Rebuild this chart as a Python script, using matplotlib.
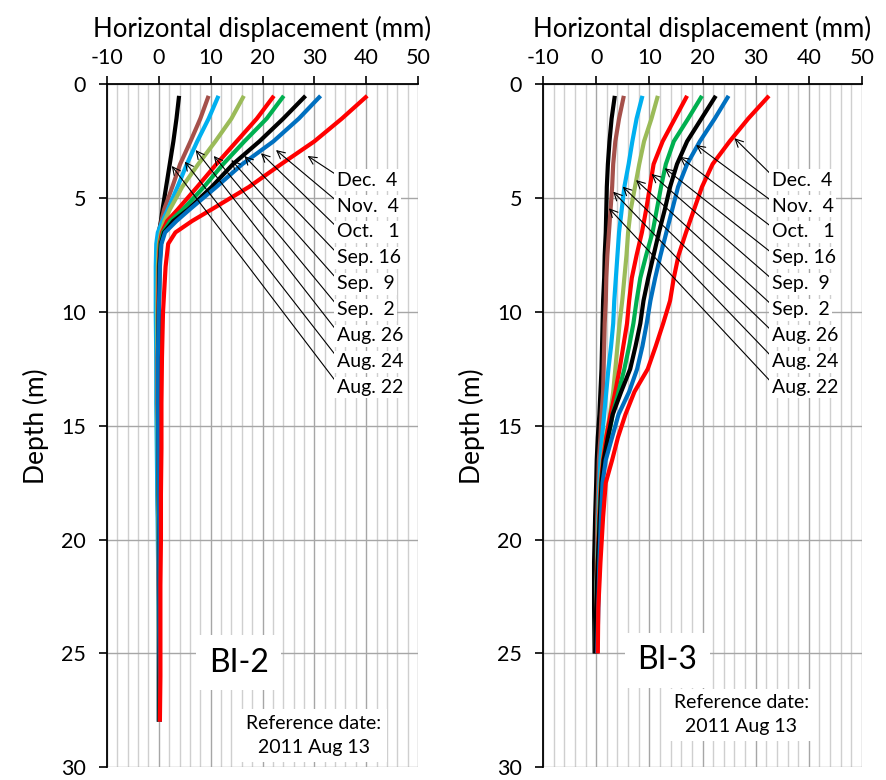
import matplotlib
matplotlib.use('Agg')
import matplotlib.pyplot as plt
from matplotlib.ticker import MultipleLocator

plt.rcParams['font.family'] = ['Lato', 'DejaVu Sans']
plt.rcParams['axes.unicode_minus'] = False

# survey dates (legend labels, top to bottom in the label column)
dates = ['Dec.  4', 'Nov.  4', 'Oct.   1', 'Sep. 16', 'Sep.  9', 'Sep.  2',
         'Aug. 26', 'Aug. 24', 'Aug. 22']
colors = ['#ff0000', '#0070c0', '#000000', '#00b050', '#ff0000', '#9bbb59',
          '#00b0f0', '#a5504a', '#000000']

# ---- BI-2 ----
depth_bi2 = [0.5, 1.5, 2.5, 3.5, 4.5, 5.5, 6.0, 6.5, 7.0, 8.0,
             10, 12, 14, 16, 18, 20, 22, 24, 26, 28]
bi2 = {
    'Dec.  4': [40.2, 35.3, 30.0, 23.6, 17.4, 10.1, 6.4, 3.2, 1.8, 1.3,
                0.8, 0.6, 0.5, 0.5, 0.4, 0.4, 0.3, 0.3, 0.3, 0.2],
    'Nov.  4': [31.2, 27.0, 22.1, 16.1, 11.1, 5.9, 3.4, 1.2, 0.5, 0.2,
                0.0, -0.2, -0.2, -0.1, 0.0, 0.1, 0.1, 0.1, 0.2, 0.2],
    'Oct.   1': [28.3, 24.0, 19.4, 14.3, 10.2, 5.6, 2.8, 1.0, 0.4, 0.1,
                 0.0, -0.1, -0.1, 0.0, 0.0, 0.1, 0.1, 0.1, 0.1, 0.1],
    'Sep. 16': [24.1, 20.8, 16.5, 12.4, 8.7, 4.6, 2.2, 0.8, 0.3, 0.1,
                0.0, -0.1, -0.1, 0.0, 0.0, 0.0, 0.1, 0.1, 0.1, 0.1],
    'Sep.  9': [22.2, 18.9, 15.0, 11.1, 7.4, 3.6, 1.6, 0.6, 0.2, 0.0,
                -0.1, -0.2, -0.2, -0.1, 0.0, 0.0, 0.0, 0.1, 0.1, 0.1],
    'Sep.  2': [16.4, 14.0, 10.9, 7.6, 4.5, 2.1, 1.1, 0.4, 0.0, -0.2,
                -0.3, -0.3, -0.3, -0.2, -0.1, 0.0, 0.0, 0.0, 0.1, 0.1],
    'Aug. 26': [11.5, 9.6, 7.4, 5.4, 3.6, 1.7, 0.7, -0.2, -0.5, -0.6,
                -0.6, -0.5, -0.5, -0.4, -0.3, -0.2, -0.1, 0.0, 0.0, 0.0],
    'Aug. 24': [9.6, 8.0, 6.1, 4.1, 2.6, 1.0, 0.5, 0.0, -0.3, -0.4,
                -0.4, -0.4, -0.3, -0.3, -0.2, -0.1, 0.0, 0.0, 0.0, 0.0],
    'Aug. 22': [3.9, 3.4, 2.8, 2.1, 1.4, 0.7, 0.4, 0.0, -0.3, -0.4,
                -0.4, -0.3, -0.3, -0.2, -0.2, -0.1, 0.0, 0.0, 0.0, 0.0],
}
# arrow tips (displacement, depth) for each label
tips_bi2 = [(28.7, 3.14), (22.6, 2.88), (19.7, 3.02), (16.5, 3.14), (14.0, 3.32),
            (10.6, 3.14), (7.1, 2.88), (5.0, 3.39), (2.5, 3.58)]

# ---- BI-3 ----
depth_bi3 = [0.5, 1.5, 2.5, 3.5, 4.5, 5.5, 6.5, 7.5, 8.5, 9.5, 10.5,
             11.5, 12.5, 13.5, 14.5, 15.5, 16.5, 17.5, 19, 21, 23, 25]
bi3 = {
    'Dec.  4': [32.5, 28.6, 25.1, 21.9, 19.9, 18.4, 16.9, 15.5, 14.6, 13.9, 12.6,
                11.2, 9.7, 7.2, 5.5, 4.1, 3.0, 1.8, 1.3, 0.8, 0.4, 0.3],
    'Nov.  4': [24.9, 22.3, 19.5, 17.1, 15.4, 14.3, 13.2, 12.1, 11.1, 10.2, 9.5,
                8.7, 7.7, 6.2, 4.2, 3.0, 1.8, 1.2, 0.9, 0.6, 0.4, 0.2],
    'Oct.   1': [22.5, 19.8, 17.1, 15.2, 13.9, 12.9, 11.8, 10.8, 9.8, 8.9, 8.3,
                 7.4, 6.4, 4.7, 3.1, 2.2, 1.4, 1.0, 0.7, 0.3, 0.0, -0.2],
    'Sep. 16': [19.9, 17.3, 14.6, 13.1, 12.2, 11.4, 10.6, 9.4, 8.3, 7.6, 7.0,
                6.2, 5.3, 4.2, 3.1, 2.3, 1.5, 1.0, 0.7, 0.4, 0.2, 0.1],
    'Sep.  9': [17.1, 14.8, 12.5, 10.8, 10.1, 9.4, 8.6, 7.6, 6.7, 6.2, 5.8,
                5.1, 4.4, 3.6, 2.7, 1.9, 1.3, 0.9, 0.6, 0.3, 0.1, 0.0],
    'Sep.  2': [11.6, 10.4, 9.0, 8.1, 7.3, 6.5, 6.0, 5.7, 5.3, 4.9, 4.4,
                4.0, 3.6, 3.2, 2.6, 1.8, 1.2, 0.8, 0.5, 0.2, 0.0, -0.1],
    'Aug. 26': [8.7, 7.6, 6.8, 6.1, 5.3, 4.8, 4.3, 4.0, 3.7, 3.4, 3.2,
                2.8, 2.3, 1.9, 1.5, 1.1, 0.8, 0.6, 0.4, 0.2, 0.0, -0.1],
    'Aug. 24': [5.2, 4.3, 3.6, 3.2, 3.0, 2.7, 2.4, 2.1, 1.9, 1.8, 1.6,
                1.5, 1.4, 1.3, 1.0, 0.8, 0.5, 0.4, 0.2, 0.1, 0.0, -0.1],
    'Aug. 22': [3.5, 2.9, 2.5, 2.2, 2.0, 1.9, 1.8, 1.6, 1.5, 1.3, 1.2,
                1.1, 1.0, 0.8, 0.6, 0.3, 0.1, 0.0, -0.2, -0.4, -0.4, -0.3],
}
tips_bi3 = [(26.0, 2.36), (18.8, 2.66), (15.7, 3.17), (12.9, 3.68), (10.4, 3.93),
            (7.5, 4.20), (5.0, 4.49), (3.2, 4.71), (2.4, 5.44)]

fig = plt.figure(figsize=(8.86, 7.80), dpi=100)
ax1 = fig.add_axes([0.1208, 0.0163, 0.351, 0.8754])
ax2 = fig.add_axes([0.6129, 0.0163, 0.360, 0.8754])


def draw_panel(ax, depth, data, tips, name, text_x, name_xy, ref_xy):
    # curves, earliest first so Dec. 4 ends up on top
    for lab, col in reversed(list(zip(dates, colors))):
        ax.plot(data[lab], depth, color=col, lw=3.0, solid_capstyle='butt', zorder=3)

    ax.set_xlim(-10, 50)
    ax.set_ylim(30, 0)
    ax.xaxis.set_major_locator(MultipleLocator(10))
    ax.xaxis.set_minor_locator(MultipleLocator(2))
    ax.yaxis.set_major_locator(MultipleLocator(5))
    ax.xaxis.tick_top()
    ax.xaxis.set_label_position('top')
    ax.grid(which='major', axis='both', color='#a6a6a6', lw=1.0, zorder=0)
    ax.grid(which='minor', axis='x', color='#cfcfcf', lw=1.0, zorder=0)
    ax.tick_params(which='major', direction='out', length=6, width=1.2,
                   labelsize=15.5)
    ax.tick_params(axis='x', which='major', pad=6)
    ax.tick_params(axis='y', which='major', pad=9)
    ax.tick_params(which='minor', length=0)
    for s in ['right', 'bottom']:
        ax.spines[s].set_visible(False)
    for s in ['top', 'left']:
        ax.spines[s].set_linewidth(1.3)
    ax.set_xlabel('Horizontal displacement (mm)', fontsize=18.5, labelpad=8)
    ax.set_ylabel('Depth (m)', fontsize=19, labelpad=9)

    # date labels with arrows
    for i, (lab, tip) in enumerate(zip(dates, tips)):
        ax.annotate(lab, xy=tip, xytext=(text_x, 4.2 + 1.14 * i),
                    ha='left', va='center', fontsize=14, zorder=5,
                    bbox=dict(boxstyle='square,pad=0.12', fc='white', ec='none'),
                    arrowprops=dict(arrowstyle='->', color='black', lw=0.8,
                                    shrinkA=0, shrinkB=0, relpos=(0, 0.8)))

    ax.text(name_xy[0], name_xy[1], name, fontsize=23, ha='center', va='center',
            zorder=5, bbox=dict(boxstyle='square,pad=0.4', fc='white', ec='none'))
    ax.text(ref_xy[0], ref_xy[1], 'Reference date:\n2011 Aug 13', fontsize=14,
            ha='center', va='center', linespacing=1.5, zorder=5,
            bbox=dict(boxstyle='square,pad=0.3', fc='white', ec='none'))


draw_panel(ax1, depth_bi2, bi2, tips_bi2, 'BI-2', 34.3, (15.4, 25.4), (29.9, 28.6))
draw_panel(ax2, depth_bi3, bi3, tips_bi3, 'BI-3', 33.0, (13.4, 25.3), (27.3, 27.7))

fig.savefig('out.png', dpi=100)
